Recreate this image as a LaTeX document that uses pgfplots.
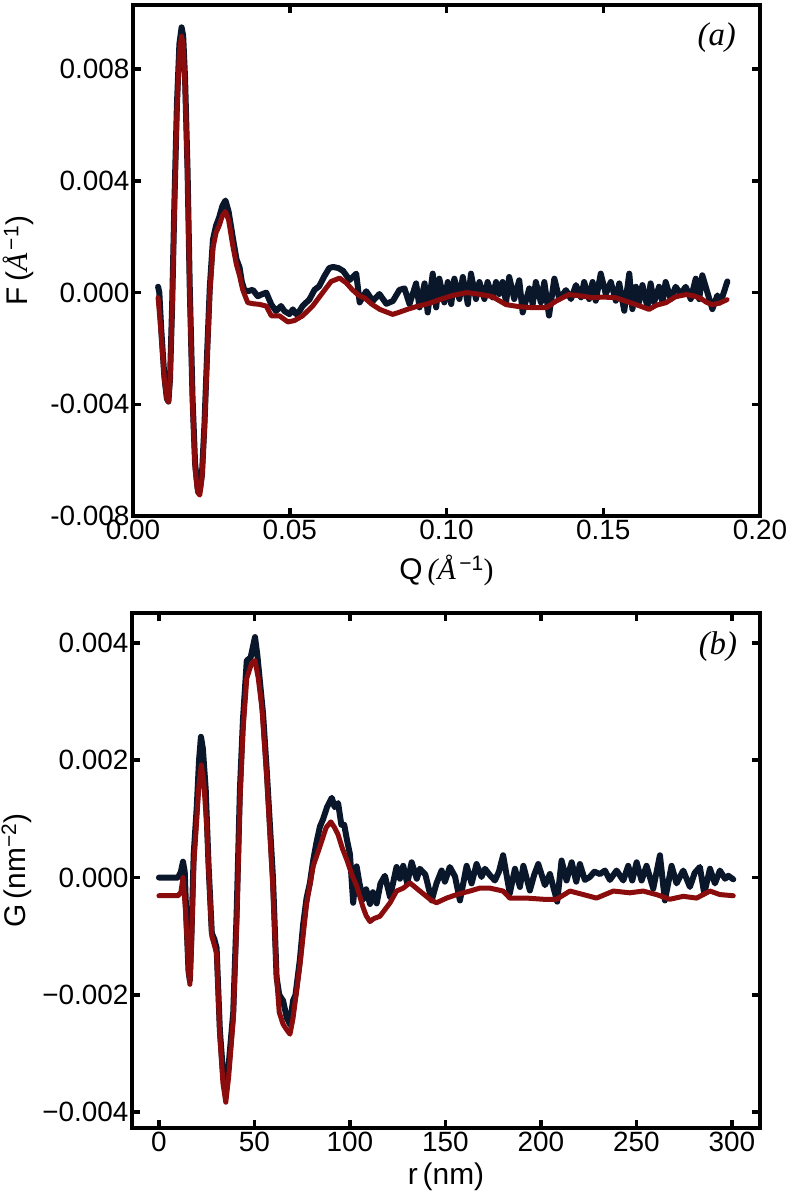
\documentclass[border=0pt]{standalone}
\usepackage{fontspec}
\setmainfont{Liberation Sans}
\newfontfamily\serif{Liberation Serif}
\usepackage{pgfplots}
\pgfplotsset{compat=1.18}
\definecolor{navy}{RGB}{10,22,42}
\definecolor{dred}{RGB}{139,12,12}
\newcommand\tlf{\fontsize{28}{31}\selectfont}

\pgfplotstableread{
Q F
0.0080 0.00021
0.0084 0.00000
0.0090 -0.00130
0.0100 -0.00300
0.0108 -0.00380
0.0113 -0.00390
0.0118 -0.00310
0.0125 -0.00040
0.0132 0.00320
0.0140 0.00670
0.0148 0.00890
0.0155 0.00950
0.0160 0.00920
0.0166 0.00770
0.0174 0.00440
0.0181 0.00020
0.0190 -0.00380
0.0198 -0.00610
0.0206 -0.00700
0.0213 -0.00710
0.0220 -0.00650
0.0228 -0.00470
0.0237 -0.00200
0.0245 0.00020
0.0255 0.00190
0.0265 0.00240
0.0275 0.00270
0.0285 0.00310
0.0295 0.00330
0.0305 0.00290
0.0318 0.00200
0.0330 0.00120
0.0340 0.00090
0.0347 0.00040
0.0355 0.00010
0.0366 0.00005
0.0382 0.00010
0.0398 -0.00013
0.0409 -0.00007
0.0425 0.00000
0.0441 -0.00042
0.0456 -0.00066
0.0472 -0.00048
0.0483 -0.00066
0.0499 -0.00077
0.0510 -0.00060
0.0520 -0.00077
0.0531 -0.00066
0.0541 -0.00048
0.0552 -0.00036
0.0563 -0.00024
0.0579 0.00010
0.0594 0.00023
0.0610 0.00058
0.0626 0.00088
0.0638 0.00092
0.0655 0.00088
0.0670 0.00078
0.0691 0.00045
0.0712 0.00068
0.0723 -0.00035
0.0744 0.00005
0.0765 -0.00030
0.0786 -0.00005
0.0808 -0.00040
0.0829 -0.00030
0.0850 0.00010
0.0866 0.00015
0.0882 -0.00041
0.0903 0.00033
0.0914 -0.00053
0.0930 0.00033
0.0940 -0.00071
0.0956 0.00068
0.0967 -0.00053
0.0977 0.00050
0.0993 -0.00035
0.1004 0.00038
0.1015 -0.00041
0.1025 0.00050
0.1041 -0.00023
0.1052 0.00056
0.1068 -0.00041
0.1078 0.00068
0.1094 -0.00023
0.1105 0.00038
0.1121 -0.00023
0.1131 0.00038
0.1147 -0.00017
0.1158 0.00038
0.1168 -0.00005
0.1179 0.00038
0.1190 -0.00035
0.1200 0.00056
0.1216 -0.00023
0.1232 0.00044
0.1243 -0.00071
0.1264 0.00015
0.1275 -0.00041
0.1285 0.00038
0.1301 -0.00035
0.1312 0.00038
0.1327 -0.00082
0.1344 0.00050
0.1360 -0.00023
0.1381 0.00009
0.1397 -0.00023
0.1413 0.00027
0.1429 -0.00017
0.1439 0.00038
0.1455 -0.00023
0.1466 0.00038
0.1476 -0.00029
0.1492 0.00068
0.1508 -0.00005
0.1524 0.00038
0.1540 -0.00029
0.1551 0.00033
0.1567 -0.00065
0.1583 0.00068
0.1593 -0.00059
0.1604 0.00021
0.1614 -0.00035
0.1625 0.00027
0.1641 -0.00053
0.1651 0.00033
0.1662 -0.00035
0.1678 0.00021
0.1689 -0.00035
0.1699 0.00038
0.1715 -0.00023
0.1731 0.00021
0.1747 -0.00005
0.1763 0.00021
0.1779 -0.00023
0.1795 0.00050
0.1806 -0.00023
0.1816 0.00062
0.1848 -0.00059
0.1864 -0.00010
0.1874 -0.00035
0.1896 0.00040
}\topblue

\pgfplotstableread{
Q F
0.0080 -0.00018
0.0090 -0.00150
0.0100 -0.00310
0.0108 -0.00380
0.0113 -0.00392
0.0118 -0.00320
0.0125 -0.00050
0.0132 0.00300
0.0140 0.00650
0.0148 0.00860
0.0155 0.00918
0.0160 0.00890
0.0166 0.00740
0.0174 0.00420
0.0181 0.00000
0.0190 -0.00400
0.0198 -0.00630
0.0206 -0.00715
0.0213 -0.00725
0.0220 -0.00665
0.0228 -0.00485
0.0237 -0.00220
0.0245 0.00000
0.0255 0.00160
0.0265 0.00215
0.0275 0.00240
0.0285 0.00275
0.0295 0.00290
0.0305 0.00260
0.0318 0.00170
0.0330 0.00100
0.0340 0.00060
0.0350 0.00010
0.0366 -0.00036
0.0385 -0.00040
0.0403 -0.00042
0.0425 -0.00048
0.0441 -0.00083
0.0467 -0.00083
0.0494 -0.00105
0.0515 -0.00100
0.0541 -0.00083
0.0573 -0.00048
0.0605 0.00000
0.0632 0.00040
0.0659 0.00052
0.0680 0.00035
0.0700 0.00010
0.0720 -0.00010
0.0740 -0.00020
0.0760 -0.00040
0.0787 -0.00060
0.0810 -0.00070
0.0828 -0.00078
0.0850 -0.00070
0.0875 -0.00060
0.0904 -0.00050
0.0940 -0.00040
0.0978 -0.00025
0.1020 -0.00010
0.1064 0.00000
0.1100 -0.00005
0.1146 -0.00014
0.1170 -0.00030
0.1190 -0.00043
0.1230 -0.00050
0.1274 -0.00054
0.1318 -0.00054
0.1350 -0.00030
0.1390 -0.00007
0.1430 -0.00012
0.1465 -0.00018
0.1500 -0.00016
0.1540 -0.00018
0.1570 -0.00030
0.1610 -0.00045
0.1646 -0.00060
0.1670 -0.00045
0.1700 -0.00036
0.1730 -0.00015
0.1764 -0.00007
0.1790 -0.00012
0.1810 -0.00020
0.1830 -0.00035
0.1847 -0.00043
0.1870 -0.00038
0.1895 -0.00025
}\topred

\pgfplotstableread{
r G
0 0.00000
10 0.00000
11.5 0.00010
12.6 0.00027
13.5 0.00010
14.5 -0.00080
15.5 -0.00160
16.2 -0.00175
17.0 -0.00100
18.2 0.00040
19.8 0.00120
21.0 0.00200
22.0 0.00240
23.0 0.00220
24.5 0.00150
26.0 0.00020
27.7 -0.00095
29.0 -0.00105
30.2 -0.00120
31.9 -0.00260
33.5 -0.00330
35.0 -0.00360
36.5 -0.00320
38.9 -0.00230
40.7 -0.00060
42.4 0.00150
44.0 0.00270
46.0 0.00370
48.0 0.00375
50.3 0.00410
51.5 0.00380
53.0 0.00330
54.5 0.00280
56.5 0.00180
59.7 0.00000
61.6 -0.00170
63.0 -0.00200
65.0 -0.00210
67.0 -0.00240
68.6 -0.00250
70.2 -0.00210
71.5 -0.00200
73.8 -0.00140
75.5 -0.00080
77.3 -0.00035
79.0 -0.00010
80.8 0.00030
82.5 0.00060
84.3 0.00087
86.0 0.00100
88.0 0.00120
90.5 0.00136
92.0 0.00120
93.8 0.00127
95.5 0.00090
97.0 0.00090
98.4 0.00065
100.0 0.00040
101.7 -0.00043
103.5 0.00019
105.0 -0.00010
106.9 -0.00037
108.5 -0.00020
110.5 -0.00045
112.0 -0.00025
114.0 -0.00044
116.0 -0.00010
118.3 0.00003
121.0 -0.00033
124.4 0.00018
126.2 -0.00002
127.9 0.00020
130.0 -0.00010
132.3 0.00026
135.0 -0.00002
136.6 0.00015
139.5 0.00005
142.8 -0.00039
145.3 -0.00010
148.0 0.00012
149.7 -0.00007
152.3 0.00018
155.0 0.00002
157.6 -0.00039
161.1 0.00020
163.7 -0.00010
166.3 0.00023
168.9 0.00001
170.7 0.00015
173.3 0.00004
175.9 -0.00005
178.0 0.00010
180.2 0.00038
183.7 -0.00027
186.4 0.00015
189.0 -0.00016
190.8 0.00020
194.2 -0.00022
196.5 0.00005
198.6 0.00023
202.1 -0.00013
204.7 0.00006
208.5 -0.00041
210.8 0.00029
213.4 -0.00005
216.1 0.00026
218.5 -0.00007
220.4 0.00023
223.0 -0.00004
225.6 0.00001
228.0 0.00010
230.9 0.00006
233.5 0.00012
236.1 -0.00004
239.6 0.00012
243.1 -0.00005
245.7 0.00020
247.8 -0.00005
250.1 0.00026
252.7 -0.00005
255.3 0.00020
258.8 -0.00019
262.3 0.00038
264.9 -0.00039
268.4 0.00020
271.0 -0.00010
274.5 0.00012
278.0 -0.00016
280.5 0.00008
283.2 0.00018
285.5 -0.00027
288.5 0.00015
291.1 -0.00010
293.7 0.00012
296.4 -0.00002
298.1 0.00003
300.7 -0.00003
}\botblue

\pgfplotstableread{
r G
0 -0.00031
10 -0.00031
11.5 -0.00025
12.6 0.00000
14.0 -0.00060
15.5 -0.00160
16.2 -0.00182
17.0 -0.00120
18.2 0.00020
19.8 0.00100
21.0 0.00160
22.2 0.00192
23.5 0.00160
25.0 0.00090
26.5 -0.00020
27.7 -0.00100
29.0 -0.00115
30.2 -0.00130
31.9 -0.00270
33.5 -0.00350
35.0 -0.00383
36.5 -0.00340
38.9 -0.00242
40.7 -0.00080
42.4 0.00130
44.0 0.00250
46.0 0.00340
48.5 0.00365
50.3 0.00370
52.0 0.00340
53.9 0.00290
56.5 0.00170
59.7 -0.00020
61.6 -0.00170
63.0 -0.00230
65.0 -0.00250
67.0 -0.00260
68.6 -0.00267
70.2 -0.00240
73.8 -0.00150
77.3 -0.00045
80.8 0.00020
84.3 0.00053
87.5 0.00085
90.0 0.00095
92.0 0.00085
93.8 0.00073
96.0 0.00050
98.4 0.00030
101.0 0.00005
103.6 -0.00015
106.8 -0.00050
108.5 -0.00065
110.5 -0.00075
112.5 -0.00070
115.7 -0.00066
121.0 -0.00043
124.4 -0.00023
127.9 -0.00018
131.4 -0.00009
136.6 -0.00023
141.9 -0.00037
145.3 -0.00043
150.6 -0.00035
155.9 -0.00029
162.8 -0.00023
168.0 -0.00018
173.3 -0.00018
180.2 -0.00023
183.7 -0.00035
192.5 -0.00035
201.2 -0.00037
208.2 -0.00037
215.2 -0.00023
222.2 -0.00029
229.1 -0.00035
237.9 -0.00023
246.6 -0.00026
253.5 -0.00023
260.5 -0.00029
267.5 -0.00037
274.5 -0.00032
281.5 -0.00035
288.5 -0.00023
293.7 -0.00029
300.7 -0.00031
}\botred

\pgfplotsset{
  myax/.style={
    scale only axis,
    axis line style={line width=4.5bp},
    tick style={line width=3.5bp, black},
    major tick length=8bp,
    tick align=inside,
    tick label style={font=\tlf},
    xticklabel style={font=\tlf},
    yticklabel style={font=\tlf},
    label style={font=\fontsize{30}{33}\selectfont},
    clip=true,
  },
  blueline/.style={color=navy, line width=6bp, line join=round, line cap=round},
  redline/.style={color=dred, line width=5bp, line join=round, line cap=round},
}

\begin{document}
\begin{tikzpicture}[x=1bp,y=1bp]
\useasboundingbox (0,0) rectangle (787,-1192);

\begin{axis}[myax,
  width=627bp, height=511bp,
  at={(133bp,-5bp)}, anchor=north west,
  xmin=0, xmax=0.2, ymin=-0.008, ymax=0.0103,
  xtick={0,0.05,0.1,0.15,0.2},
  xticklabels={{\tlf 0.00},{\tlf 0.05},{\tlf 0.10},{\tlf 0.15},{\tlf 0.20}},
  ytick={-0.008,-0.004,0,0.004,0.008},
  yticklabels={{\tlf -0.008},{\tlf -0.004},{\tlf 0.000},{\tlf 0.004},{\tlf 0.008}},
  scaled y ticks=false, scaled x ticks=false,
  xlabel={Q\,{\serif\itshape(Å}\textsuperscript{\,−1}{\serif)}},
  ylabel={F\,({\serif\itshape Å}\textsuperscript{\,−1})},
  xlabel style={at={(axis description cs:0.5,-0.106)}, anchor=center},
  ylabel style={at={(axis description cs:-0.183,0.5)}, anchor=center},
]
\addplot[blueline] table[x=Q, y=F] {\topblue};
\addplot[redline] table[x=Q, y=F] {\topred};
\node[font=\serif\itshape\fontsize{33}{36}\selectfont] at (axis description cs:0.931,0.937) {(a)};
\end{axis}

\begin{axis}[myax,
  width=628bp, height=515bp,
  at={(132bp,-613bp)}, anchor=north west,
  xmin=-14.1, xmax=314.7, ymin=-0.00427, ymax=0.00451,
  xtick={0,50,100,150,200,250,300},
  xticklabels={{\tlf 0},{\tlf 50},{\tlf 100},{\tlf 150},{\tlf 200},{\tlf 250},{\tlf 300}},
  ytick={-0.004,-0.002,0,0.002,0.004},
  yticklabels={{\tlf −0.004},{\tlf −0.002},{\tlf 0.000},{\tlf 0.002},{\tlf 0.004}},
  scaled y ticks=false,
  xlabel={r\,(nm)},
  ylabel={G\,(nm\textsuperscript{−2})},
  xlabel style={at={(axis description cs:0.5,-0.095)}, anchor=center},
  ylabel style={at={(axis description cs:-0.184,0.5)}, anchor=center},
]
\addplot[blueline] table[x=r, y=G] {\botblue};
\addplot[redline] table[x=r, y=G] {\botred};
\node[font=\serif\itshape\fontsize{33}{36}\selectfont] at (axis description cs:0.933,0.934) {(b)};
\end{axis}
\end{tikzpicture}
\end{document}
